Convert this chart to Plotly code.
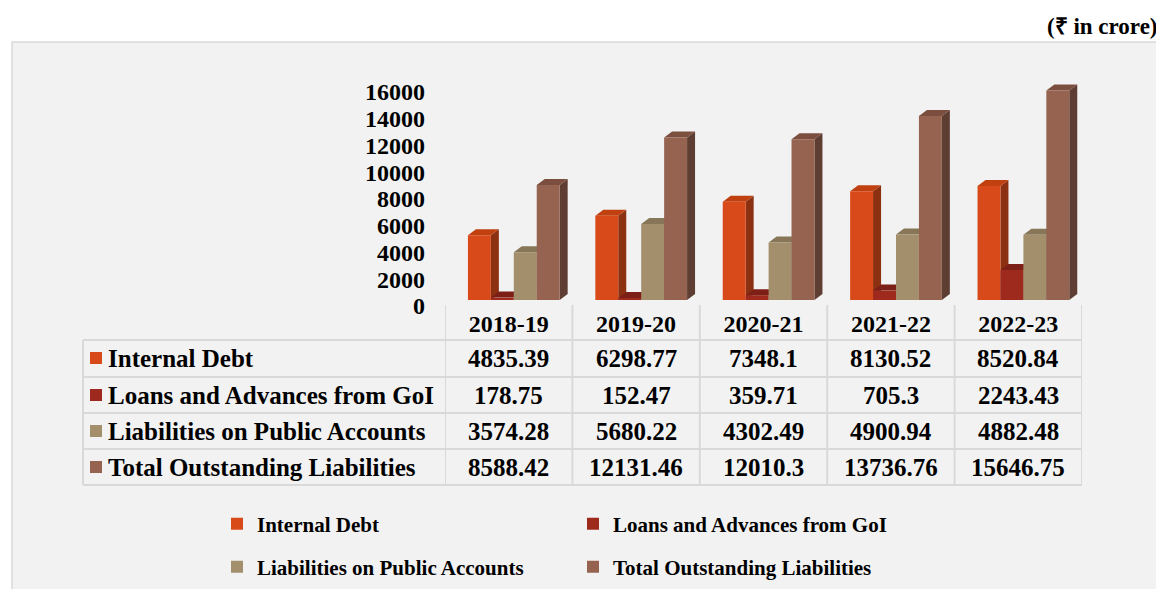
import plotly.graph_objects as go

years = ["2018-19", "2019-20", "2020-21", "2021-22", "2022-23"]
series_names = ["Internal Debt", "Loans and Advances from GoI",
                "Liabilities on Public Accounts", "Total Outstanding Liabilities"]
internal_debt = [4835.39, 6298.77, 7348.1, 8130.52, 8520.84]
loans_goi = [178.75, 152.47, 359.71, 705.3, 2243.43]
public_accounts = [3574.28, 5680.22, 4302.49, 4900.94, 4882.48]
total_liab = [8588.42, 12131.46, 12010.3, 13736.76, 15646.75]
y_ticks = [0, 2000, 4000, 6000, 8000, 10000, 12000, 14000, 16000]

series_values = [internal_debt, loans_goi, public_accounts, total_liab]
front_cols = ["#d84a1a", "#9e2a1e", "#a38f6b", "#966351"]
top_cols = ["#c0400f", "#7c2017", "#877657", "#7b4e40"]
side_cols = ["#8c3012", "#6a1a12", "#6e6048", "#5e3e33"]

W, H = 1164, 589
OFF = 8  # browser body margin
PL, PR, PT, PB = 445, 1082, 80, 300  # plot area in page pixels
YMAX = (PB - PT) * 74.7


def xp(px):
    return (px - PL) / (PR - PL)


def yp(py):
    return (PB - py) / (PB - PT)


def yc(py):
    # container fraction (from bottom) for a page pixel y
    return 1 - (py - OFF) / (H - OFF)


def xc(px):
    return (px - OFF) / (W - OFF)


FONT = "Liberation Serif, Times New Roman, serif"
bw = 0.18
offsets = [-0.32, -0.14, 0.04, 0.22]
ddx = 8 / 127.4
ddy = 6 * 74.7

fig = go.Figure()
xs = list(range(len(years)))
legend_ids = ["legend", "legend2", "legend3", "legend4"]
for i, (name, vals) in enumerate(zip(series_names, series_values)):
    fig.add_trace(go.Bar(
        x=xs, y=vals, name=name, width=bw, offset=offsets[i],
        marker=dict(color=front_cols[i], line=dict(width=0)),
        legend=legend_ids[i], hoverinfo="x+y+name",
    ))

shapes = []
# 3D side and top faces computed from data
for k in xs:
    for i, vals in enumerate(series_values):
        v = vals[k]
        L = k + offsets[i]
        R = L + bw
        side = (f"M{R},0 L{R+ddx},{ddy} L{R+ddx},{v+ddy} L{R},{v} Z")
        top = (f"M{L},{v} L{R},{v} L{R+ddx},{v+ddy} L{L+ddx},{v+ddy} Z")
        shapes.append(dict(type="path", path=side, xref="x", yref="y",
                           fillcolor=side_cols[i], line=dict(width=0), layer="below"))
        shapes.append(dict(type="path", path=top, xref="x", yref="y",
                           fillcolor=top_cols[i], line=dict(width=0), layer="below"))

# background panel
panel = dict(type="rect", xref="paper", yref="paper",
             x0=xp(12), x1=xp(1160), y0=yp(600), y1=yp(42),
             fillcolor="#f2f2f2", line=dict(color="#d9d9d9", width=1.5), layer="below")
shapes.insert(0, panel)

grid_col = "#d9d9d9"
row_lines = [340, 377, 413, 449, 485]
for py in row_lines:
    shapes.append(dict(type="line", xref="paper", yref="paper",
                       x0=xp(83), x1=xp(1082), y0=yp(py), y1=yp(py),
                       line=dict(color=grid_col, width=2), layer="above"))
for k in range(len(years) + 1):
    shapes.append(dict(type="line", xref="x", yref="paper",
                       x0=k - 0.5, x1=k - 0.5, y0=yp(305), y1=yp(485),
                       line=dict(color=grid_col, width=2), layer="above"))
shapes.append(dict(type="line", xref="paper", yref="paper",
                   x0=xp(83), x1=xp(83), y0=yp(340), y1=yp(485),
                   line=dict(color=grid_col, width=2), layer="above"))

annotations = []
row_centers = [358, 395, 431, 467]
for r, (name, vals) in enumerate(zip(series_names, series_values)):
    cy = row_centers[r]
    shapes.append(dict(type="rect", xref="paper", yref="paper",
                       x0=xp(90), x1=xp(102), y0=yp(cy + 6), y1=yp(cy - 6),
                       fillcolor=front_cols[r], line=dict(width=0), layer="above"))
    annotations.append(dict(text=name, xref="paper", yref="paper", x=xp(106), y=yp(cy),
                            xanchor="left", yanchor="middle", showarrow=False,
                            font=dict(family=FONT, size=25, color="black", weight="bold")))
    for k in xs:
        annotations.append(dict(text=str(vals[k]), xref="x", yref="paper", x=k, y=yp(cy),
                                xanchor="center", yanchor="middle", showarrow=False,
                                font=dict(family=FONT, size=25, color="black", weight="bold")))

annotations.append(dict(text="(₹ in crore)", xref="paper", yref="paper",
                        x=xp(1160), y=yp(27), xanchor="right", yanchor="middle",
                        showarrow=False,
                        font=dict(family=FONT, size=23, color="black", weight="bold")))

leg_font = dict(family=FONT, size=21, color="black", weight="bold")
leg_pos = [(217, 524), (573, 524), (217, 567), (573, 567)]


def leg(px, py):
    return dict(orientation="h", xref="container", yref="container",
                x=xc(px), y=yc(py), xanchor="left", yanchor="middle",
                font=leg_font, bgcolor="rgba(0,0,0,0)")


fig.update_layout(
    width=W - OFF, height=H - OFF,
    margin=dict(l=PL - OFF, r=W - PR, t=PT - OFF, b=H - PB),
    paper_bgcolor="white", plot_bgcolor="rgba(0,0,0,0)",
    barmode="overlay",
    showlegend=True,
    legend=leg(*leg_pos[0]),
    legend2=leg(*leg_pos[1]),
    legend3=leg(*leg_pos[2]),
    legend4=leg(*leg_pos[3]),
    xaxis=dict(range=[-0.5, 4.5], tickvals=xs, ticktext=years, showgrid=False,
               zeroline=False, showline=False, ticks="", ticklabelstandoff=7,
               tickfont=dict(family=FONT, size=24, color="black", weight="bold")),
    yaxis=dict(range=[0, YMAX], tickvals=y_ticks, ticktext=[str(t) for t in y_ticks],
               showgrid=False, zeroline=False,
               showline=False, ticks="", ticklabelstandoff=19, ticklabelshift=6,
               tickfont=dict(family=FONT, size=24, color="black", weight="bold")),
    shapes=shapes, annotations=annotations,
)

fig.write_html("out.html")
